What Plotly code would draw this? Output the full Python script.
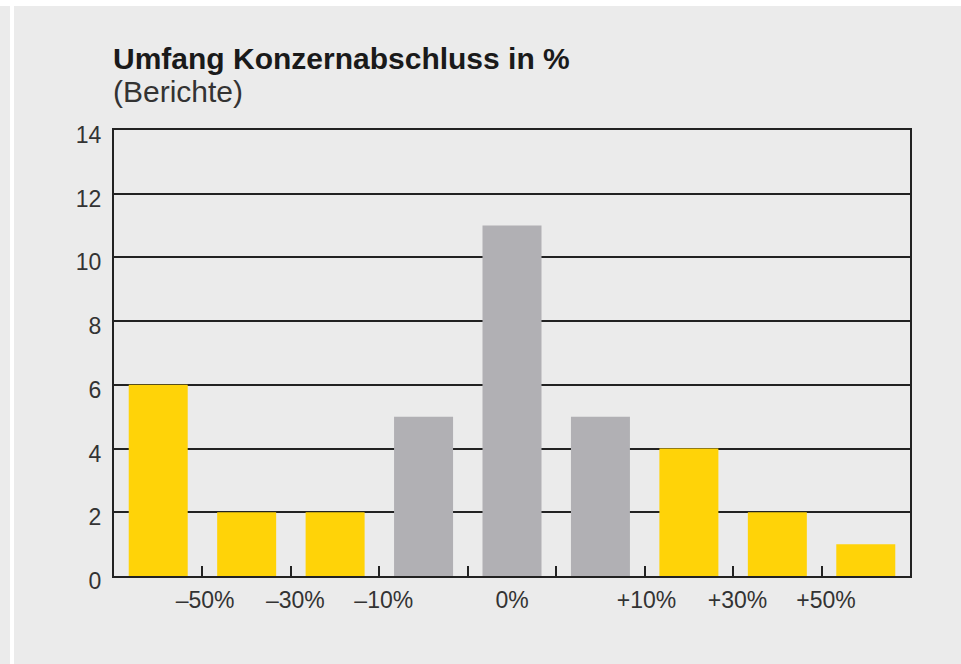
import plotly.graph_objects as go

# Data
bins = list(range(9))
values = [6, 2, 2, 5, 11, 5, 4, 2, 1]
groups = ["out", "out", "out", "in", "in", "in", "out", "out", "out"]
tick_labels = ["–50%", "–30%", "–10%", "0%", "+10%", "+30%", "+50%"]
tick_label_pos = [0.53, 1.55, 2.55, 4.0, 5.52, 6.55, 7.55]
boundaries = [0.5, 1.5, 2.5, 3.5, 4.5, 5.5, 6.5, 7.5]
y_ticks = [0, 2, 4, 6, 8, 10, 12, 14]

color_map = {"out": "#FFD308", "in": "#B1B0B4"}
colors = [color_map[g] for g in groups]

fig = go.Figure()
fig.add_trace(go.Bar(x=bins, y=values, marker=dict(color=colors, line=dict(width=0)),
                     hoverinfo="skip"))

FONT = "Liberation Sans, Arial, sans-serif"
L, R, T, B = 114, 51, 130, 88
W, H = 961, 664
pw, ph = W - L - R, H - T - B

def px_x(p):
    return (p - L) / pw

def px_y(p):
    return (H - B - p) / ph

fig.update_layout(
    width=W, height=H, autosize=False,
    margin=dict(l=L, r=R, t=T, b=B, pad=0),
    paper_bgcolor="#EBEBEB", plot_bgcolor="#EBEBEB",
    bargap=0.333, showlegend=False,
    font=dict(family=FONT, size=23, color="#333333"),
    xaxis=dict(range=[-0.5, 8.5], tickmode="array", tickvals=tick_label_pos,
               ticktext=tick_labels, ticks="", showgrid=False, zeroline=False,
               showline=True, linecolor="#222222", linewidth=2, mirror=True,
               tickfont=dict(family=FONT, size=23, color="#333333"),
               ticklabelstandoff=2,
               minor=dict(tickmode="array", tickvals=boundaries, ticks="inside",
                          ticklen=10, tickwidth=2, tickcolor="#222222", showgrid=False)),
    yaxis=dict(range=[0, 14], tickmode="array", tickvals=y_ticks, ticks="",
               showgrid=True, gridcolor="#222222", gridwidth=2, zeroline=False,
               showline=True, linecolor="#222222", linewidth=2, mirror=True,
               tickfont=dict(family=FONT, size=23, color="#333333"),
               ticklabelstandoff=6, ticklabelshift=5),
    shapes=[
        dict(type="rect", xref="paper", yref="paper", x0=px_x(0), x1=px_x(W),
             y0=px_y(6), y1=px_y(0), fillcolor="white", line=dict(width=0), layer="above"),
        dict(type="rect", xref="paper", yref="paper", x0=px_x(10), x1=px_x(14),
             y0=px_y(H), y1=px_y(0), fillcolor="white", line=dict(width=0), layer="above"),
    ],
    annotations=[
        dict(text="<b>Umfang Konzernabschluss in %</b>", xref="paper", yref="paper",
             x=px_x(114), y=px_y(58.5), xanchor="left", yanchor="middle", showarrow=False,
             xshift=-3, font=dict(family=FONT, size=30, color="#1A1A1A")),
        dict(text="(Berichte)", xref="paper", yref="paper",
             x=px_x(114), y=px_y(91.5), xanchor="left", yanchor="middle", showarrow=False,
             xshift=-3, font=dict(family=FONT, size=30, color="#333333")),
    ],
)

fig.write_html("out.html", config={"displayModeBar": False},
               post_script="document.body.style.margin='0';document.body.style.overflow='hidden';")
